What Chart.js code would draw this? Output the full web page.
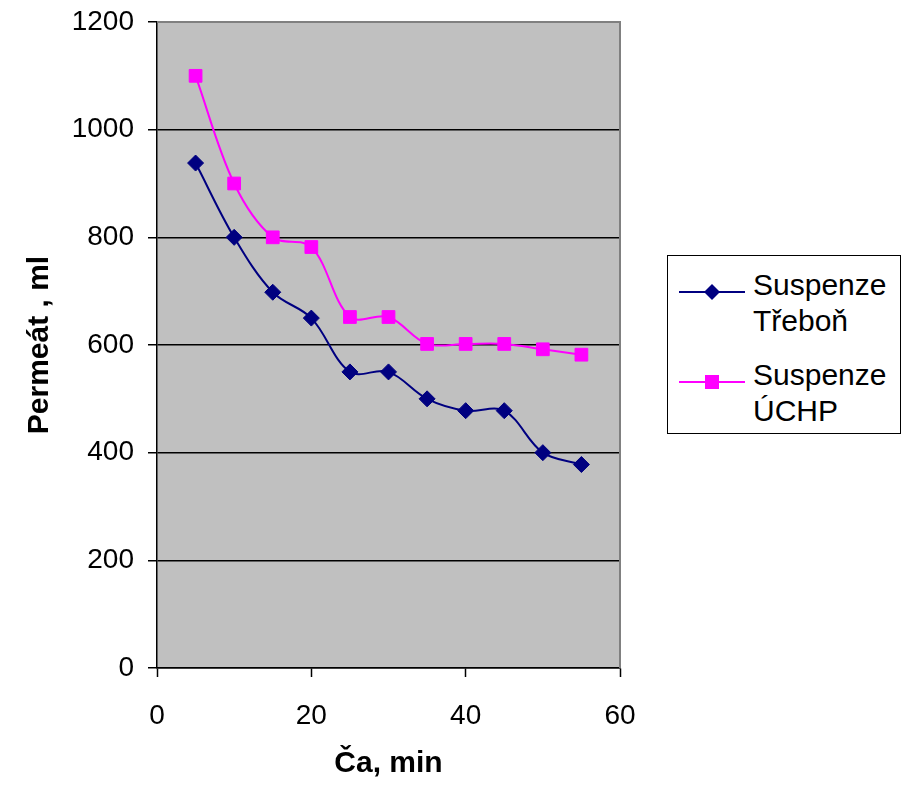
<!DOCTYPE html>
<html>
<head>
<meta charset="utf-8">
<script src="https://cdn.jsdelivr.net/npm/chart.js@4"></script>
<style>
  body { margin: 0; background: #fff; }
  #wrap { position: relative; width: 904px; height: 786px; }
  #legend {
    position: absolute; left: 667px; top: 255px; width: 232px; height: 177px;
    border: 1px solid #000; background: #fff;
    font-family: "Liberation Sans", Arial, sans-serif; font-size: 30px; line-height: 36px; color: #000;
  }
  .item { position: absolute; left: 0; }
  .item svg { position: absolute; left: 11px; top: 10px; }
  .item span { position: absolute; left: 85px; white-space: nowrap; }
</style>
</head>
<body>
<div id="wrap">
  <canvas id="chart"></canvas>
  <div id="legend"></div>
</div>
<script>
const minutes = [5, 10, 15, 20, 25, 30, 35, 40, 45, 50, 55];
const trebon = [938, 800, 698, 650, 550, 550, 500, 478, 478, 400, 378];
const uchp = [1100, 900, 800, 782, 652, 652, 602, 602, 602, 592, 582];
const seriesNames = [['Suspenze', 'Třeboň'], ['Suspenze', 'ÚCHP']];

const FONT = '"Liberation Sans", Arial, sans-serif';

// gray plot background + gray top/right frame
const plotBg = {
  id: 'plotBg',
  beforeDraw(chart) {
    const { ctx, chartArea: a } = chart;
    ctx.save();
    ctx.fillStyle = '#fff';
    ctx.fillRect(0, 0, chart.width, chart.height);
    ctx.fillStyle = '#c0c0c0';
    ctx.fillRect(a.left, a.top, a.right - a.left, a.bottom - a.top);
    ctx.restore();
  },
  afterDatasetsDraw(chart) {
    const { ctx, chartArea: a } = chart;
    ctx.save();
    ctx.strokeStyle = '#808080';
    ctx.lineWidth = 2;
    ctx.beginPath();
    ctx.moveTo(a.left, a.top);
    ctx.lineTo(a.right, a.top);
    ctx.lineTo(a.right, a.bottom);
    ctx.stroke();
    ctx.restore();
  }
};

const chart = new Chart(document.getElementById('chart'), {
  type: 'line',
  data: {
    datasets: [
      {
        label: seriesNames[0].join(' '),
        data: minutes.map((m, i) => ({ x: m, y: trebon[i] })),
        borderColor: '#000080',
        backgroundColor: '#000080',
        borderWidth: 2,
        pointStyle: 'rectRot',
        pointRadius: 8,
        pointBorderWidth: 1,
        tension: 0.35
      },
      {
        label: seriesNames[1].join(' '),
        data: minutes.map((m, i) => ({ x: m, y: uchp[i] })),
        borderColor: '#ff00ff',
        backgroundColor: '#ff00ff',
        borderWidth: 2,
        pointStyle: 'rect',
        pointRadius: 9,
        pointBorderWidth: 1,
        tension: 0.35
      }
    ]
  },
  options: {
    responsive: true,
    maintainAspectRatio: false,
    animation: false,
    layout: { padding: { top: 22, right: 284, left: 0, bottom: 0 } },
    plugins: { legend: { display: false }, tooltip: { enabled: false } },
    scales: {
      x: {
        type: 'linear', min: 0, max: 60,
        afterFit(s) { s.height = 118; s.paddingLeft = 0; s.paddingRight = 0; },
        ticks: { stepSize: 20, color: '#000', padding: 22, font: { family: FONT, size: 28 },
                 callback: v => String(v) },
        grid: { drawOnChartArea: false, drawTicks: true, tickLength: 9, color: '#000', tickWidth: 1.5 },
        border: { color: '#000', width: 1.5 },
        title: { display: true, text: 'Ča, min', color: '#000', padding: { top: 0, bottom: 4 },
                 font: { family: FONT, size: 30, weight: 'bold' } }
      },
      y: {
        min: 0, max: 1200,
        afterFit(s) { s.width = 157; s.paddingTop = 0; s.paddingBottom = 0; },
        ticks: { stepSize: 200, color: '#000', padding: 14, font: { family: FONT, size: 28 },
                 callback: v => String(v) },
        grid: { color: '#000', lineWidth: 1.5, tickLength: 9 },
        border: { color: '#000', width: 1.5 },
        title: { display: true, text: 'Permeát , ml', color: '#000', padding: { top: 22, bottom: 0 },
                 font: { family: FONT, size: 30, weight: 'bold' } }
      }
    }
  },
  plugins: [plotBg]
});

// legend built from the dataset styles, with wrapped names
const legend = document.getElementById('legend');
const tops = [11, 101];
chart.data.datasets.forEach((ds, i) => {
  const item = document.createElement('div');
  item.className = 'item';
  item.style.top = tops[i] + 'px';
  const marker = ds.pointStyle === 'rect'
    ? '<rect x="26" y="8" width="14" height="14" fill="' + ds.borderColor + '"/>'
    : '<polygon points="33,7 41,15 33,23 25,15" fill="' + ds.borderColor + '"/>';
  item.innerHTML = '<svg width="68" height="30"><line x1="0" y1="15" x2="66" y2="15" stroke="' +
    ds.borderColor + '" stroke-width="2"/>' + marker + '</svg><span>' +
    seriesNames[i][0] + '<br>' + seriesNames[i][1] + '</span>';
  legend.appendChild(item);
});
</script>
</body>
</html>
